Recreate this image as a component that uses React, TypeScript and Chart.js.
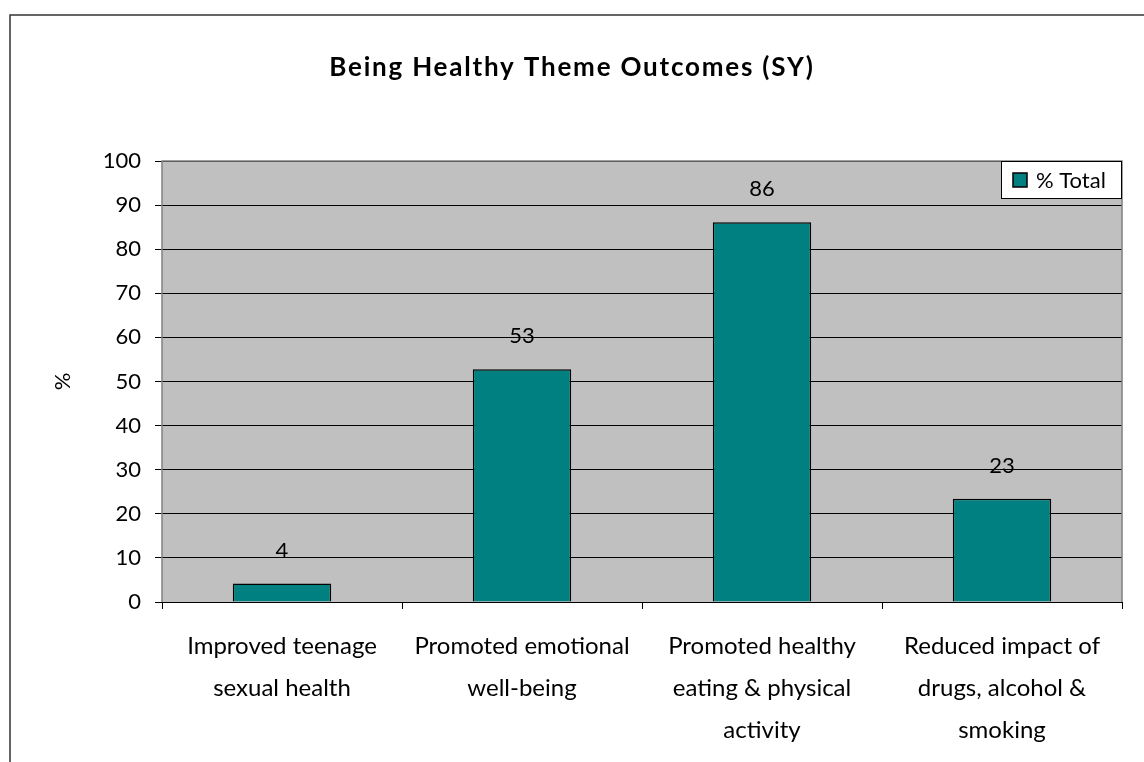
import React, { useEffect, useRef } from "react";
import { Chart, registerables } from "chart.js";

Chart.register(...registerables);

const titleText = "Being Healthy Theme Outcomes (SY)";
const categories: string[][] = [
  ["Improved teenage", "sexual health"],
  ["Promoted emotional", "well-being"],
  ["Promoted healthy", "eating & physical", "activity"],
  ["Reduced impact of", "drugs, alcohol &", "smoking"],
];
const seriesName = "% Total";
const totals = [4.2, 52.8, 86.1, 23.4];
const yTicks = [0, 10, 20, 30, 40, 50, 60, 70, 80, 90, 100];

const FONT = "Lato, 'Open Sans', sans-serif";
const FS = 22;
const XFS = 24;

const decorPlugin = {
  id: "decor",
  beforeDraw(chart: any) {
    const { ctx, chartArea } = chart;
    ctx.save();
    ctx.fillStyle = "#ffffff";
    ctx.fillRect(0, 0, chart.width, chart.height);
    // outer frame
    ctx.strokeStyle = "#333333";
    ctx.lineWidth = 1.5;
    ctx.beginPath();
    ctx.moveTo(10, chart.height + 2);
    ctx.lineTo(10, 15);
    ctx.lineTo(chart.width + 2, 15);
    ctx.stroke();
    // plot background
    ctx.fillStyle = "#c0c0c0";
    ctx.fillRect(chartArea.left, chartArea.top, chartArea.right - chartArea.left, chartArea.bottom - chartArea.top);
    // title
    ctx.fillStyle = "#000000";
    ctx.font = `bold 26px ${FONT}`;
    try {
      (ctx as any).letterSpacing = "1.8px";
    } catch (e) {}
    ctx.textAlign = "center";
    ctx.textBaseline = "middle";
    ctx.fillText(titleText, chart.width / 2, 68);
    try {
      (ctx as any).letterSpacing = "0px";
    } catch (e) {}
    ctx.restore();
  },
  afterDatasetsDraw(chart: any) {
    const { ctx, chartArea } = chart;
    ctx.save();
    // plot border (gray) top, left, right
    ctx.strokeStyle = "#808080";
    ctx.lineWidth = 1.5;
    ctx.beginPath();
    ctx.moveTo(chartArea.left, chartArea.bottom);
    ctx.lineTo(chartArea.left, chartArea.top);
    ctx.lineTo(chartArea.right, chartArea.top);
    ctx.lineTo(chartArea.right, chartArea.bottom);
    ctx.stroke();
    // x axis line
    ctx.strokeStyle = "#000000";
    ctx.lineWidth = 1;
    ctx.beginPath();
    ctx.moveTo(chartArea.left, chartArea.bottom + 0.5);
    ctx.lineTo(chartArea.right, chartArea.bottom + 0.5);
    ctx.stroke();
    // data labels
    const meta = chart.getDatasetMeta(0);
    ctx.fillStyle = "#000000";
    ctx.font = `${FS}px ${FONT}`;
    ctx.textAlign = "center";
    ctx.textBaseline = "middle";
    meta.data.forEach((el: any, i: number) => {
      ctx.fillText(String(Math.round(totals[i])), el.x, el.y - 33);
    });
    // legend
    const lx = chartArea.right - 121;
    const ly = chartArea.top;
    const lw = 120;
    const lh = 37;
    ctx.fillStyle = "#ffffff";
    ctx.fillRect(lx, ly, lw, lh);
    ctx.strokeStyle = "#000000";
    ctx.lineWidth = 1;
    ctx.strokeRect(lx + 0.5, ly + 0.5, lw, lh);
    ctx.fillStyle = "#008080";
    ctx.fillRect(lx + 12, ly + 12, 14, 14);
    ctx.lineWidth = 1.5;
    ctx.strokeRect(lx + 12, ly + 12, 14, 14);
    ctx.fillStyle = "#000000";
    ctx.font = `${FS}px ${FONT}`;
    ctx.textAlign = "left";
    ctx.textBaseline = "middle";
    ctx.fillText(seriesName, lx + 35, ly + 20);
    ctx.restore();
  },
};

export default function App() {
  const ref = useRef<HTMLCanvasElement>(null);
  useEffect(() => {
    if (!ref.current) return;
    const chart = new Chart(ref.current, {
      type: "bar",
      data: {
        labels: categories,
        datasets: [
          {
            label: seriesName,
            data: totals,
            backgroundColor: "#008080",
            borderColor: "#000000",
            borderWidth: 1.5,
            categoryPercentage: 1,
            barPercentage: 0.41,
          },
        ],
      },
      options: {
        animation: false,
        responsive: false,
        maintainAspectRatio: false,
        layout: { padding: { left: 0, top: 161, right: 22, bottom: 0 } },
        plugins: {
          legend: { display: false },
          title: { display: false },
          tooltip: { enabled: false },
        },
        scales: {
          x: {
            offset: true,
            grid: {
              offset: true,
              drawOnChartArea: false,
              drawTicks: true,
              tickLength: 7,
              color: "#000000",
            },
            border: { display: false },
            ticks: {
              color: "#000000",
              font: { family: FONT, size: XFS, lineHeight: 42 / XFS },
              padding: 16,
              maxRotation: 0,
              autoSkip: false,
            },
            afterFit(scale: any) {
              scale.height = 160;
            },
          },
          y: {
            min: 0,
            max: 100,
            afterBuildTicks(scale: any) {
              scale.ticks = yTicks.map((v) => ({ value: v }));
            },
            grid: {
              color: "#000000",
              tickLength: 7,
              lineWidth: 1,
            },
            border: { display: false },
            ticks: {
              color: "#000000",
              font: { family: FONT, size: FS },
              padding: 14,
            },
            title: {
              display: true,
              text: "%",
              color: "#000000",
              font: { family: FONT, size: FS },
              padding: { top: 50, bottom: 0 },
            },
            afterFit(scale: any) {
              scale.width = 162;
            },
          },
        },
      },
      plugins: [decorPlugin],
    });
    return () => chart.destroy();
  }, []);
  return (
    <div style={{ position: "fixed", left: 0, top: 0, width: 1144, height: 762 }}>
      <canvas ref={ref} width={1144} height={762} style={{ display: "block" }} />
    </div>
  );
}
